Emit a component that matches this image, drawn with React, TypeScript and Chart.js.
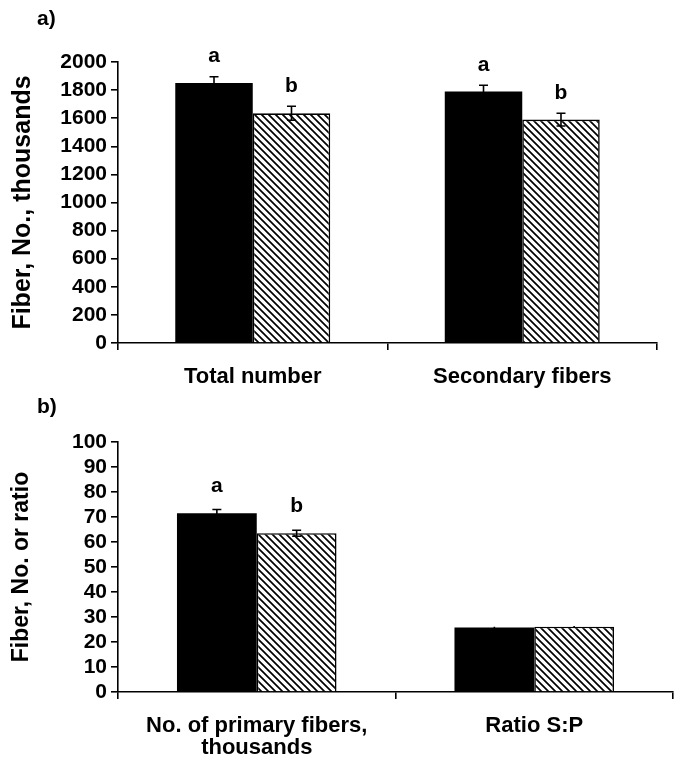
import React, { useEffect, useRef } from 'react';
import { Chart, registerables } from 'chart.js';

Chart.register(...registerables);

// ---- Data ----
const categoriesA = ['Total number', 'Secondary fibers'];
const controlA = [1850, 1790];
const treatA = [1635, 1590];
const controlErrA = [45, 45];
const treatErrA = [50, 45];
const controlLettersA = ['a', 'a'];
const treatLettersA = ['b', 'b'];
const ticksA = { min: 0, max: 2000, step: 200 };

const categoriesB = [['No. of primary fibers,', 'thousands'], 'Ratio S:P'];
const controlB = [71.5, 25.8];
const treatB = [63.5, 26.1];
const controlErrB = [1.5, 0.3];
const treatErrB = [1.2, 0.3];
const controlLettersB = ['a', ''];
const treatLettersB = ['b', ''];
const ticksB = { min: 0, max: 100, step: 10 };

const FONT = 'Liberation Sans, Arial, Helvetica, sans-serif';

function makeHatch(): CanvasPattern | string {
  const s = 7;
  const c = document.createElement('canvas');
  c.width = s;
  c.height = s;
  const ctx = c.getContext('2d');
  if (!ctx) return '#888';
  ctx.fillStyle = '#fff';
  ctx.fillRect(0, 0, s, s);
  ctx.strokeStyle = '#000';
  ctx.lineWidth = 1.7;
  ctx.beginPath();
  ctx.moveTo(-1, -1);
  ctx.lineTo(s + 1, s + 1);
  ctx.moveTo(-1, s - 1);
  ctx.lineTo(1, s + 1);
  ctx.moveTo(s - 1, -1);
  ctx.lineTo(s + 1, 1);
  ctx.stroke();
  return ctx.createPattern(c, 'repeat') || '#888';
}

const errorPlugin = {
  id: 'errBars',
  afterDatasetsDraw(chart: any) {
    const ctx = chart.ctx;
    const y = chart.scales.y;
    chart.data.datasets.forEach((ds: any, i: number) => {
      const meta = chart.getDatasetMeta(i);
      meta.data.forEach((bar: any, j: number) => {
        const v = ds.data[j];
        const e = ds.errors[j];
        const yt = y.getPixelForValue(v + e);
        const yb = y.getPixelForValue(v - e);
        const x = bar.x;
        ctx.save();
        ctx.strokeStyle = '#000';
        ctx.lineWidth = 1.6;
        ctx.beginPath();
        ctx.moveTo(x, yt);
        ctx.lineTo(x, yb);
        if (e >= 10 * (y.max / 2000)) {
          ctx.moveTo(x - 4.5, yt);
          ctx.lineTo(x + 4.5, yt);
          ctx.moveTo(x - 4.5, yb);
          ctx.lineTo(x + 4.5, yb);
        }
        ctx.stroke();
        const letter = ds.letters[j];
        if (letter) {
          ctx.fillStyle = '#000';
          ctx.font = 'bold 21px ' + FONT;
          ctx.textAlign = 'center';
          ctx.textBaseline = 'alphabetic';
          ctx.fillText(letter, x, bar.y - 21);
        }
        ctx.restore();
      });
    });
  },
};

function panelLabelPlugin(text: string, x: number, y: number) {
  return {
    id: 'panelLabel',
    afterDraw(chart: any) {
      const ctx = chart.ctx;
      ctx.save();
      ctx.fillStyle = '#000';
      ctx.font = 'bold 21px ' + FONT;
      ctx.textAlign = 'left';
      ctx.textBaseline = 'middle';
      ctx.fillText(text, x, y);
      ctx.restore();
    },
  };
}

function buildConfig(
  categories: any[],
  control: number[],
  treat: number[],
  cErr: number[],
  tErr: number[],
  cLet: string[],
  tLet: string[],
  ticks: { min: number; max: number; step: number },
  yTitle: string,
  yTitleSize: number,
  padTop: number,
  padRight: number,
  xHeight: number,
  label: { text: string; x: number; y: number }
): any {
  const hatch = makeHatch();
  return {
    type: 'bar',
    data: {
      labels: categories,
      datasets: [
        {
          data: control,
          errors: cErr,
          letters: cLet,
          backgroundColor: '#000',
          borderWidth: 0,
          categoryPercentage: 0.575,
          barPercentage: 1,
        },
        {
          data: treat,
          errors: tErr,
          letters: tLet,
          backgroundColor: hatch,
          borderColor: '#000',
          borderWidth: 1.6,
          categoryPercentage: 0.575,
          barPercentage: 1,
        },
      ],
    },
    options: {
      animation: false,
      responsive: false,
      maintainAspectRatio: false,
      layout: { padding: { top: padTop, right: padRight, left: 0, bottom: 0 } },
      plugins: { legend: { display: false }, tooltip: { enabled: false } },
      scales: {
        x: {
          grid: { drawOnChartArea: false, drawTicks: true, tickLength: 7, color: '#000', lineWidth: 1.6, offset: true },
          border: { color: '#000', width: 1.6 },
          ticks: {
            color: '#000',
            font: { family: FONT, weight: 'bold', size: 22, lineHeight: 1.0 },
            padding: 16,
            maxRotation: 0,
            minRotation: 0,
            autoSkip: false,
          },
          afterFit(scale: any) {
            scale.height = xHeight;
          },
        },
        y: {
          min: ticks.min,
          max: ticks.max,
          grid: { drawOnChartArea: false, drawTicks: true, tickLength: 7, color: '#000', lineWidth: 1.6 },
          border: { color: '#000', width: 1.6 },
          ticks: {
            stepSize: ticks.step,
            color: '#000',
            font: { family: FONT, weight: 'bold', size: 21 },
            padding: 4,
            autoSkip: false,
            callback: (v: any) => String(v),
          },
          title: {
            display: true,
            text: yTitle,
            color: '#000',
            font: { family: FONT, weight: 'bold', size: yTitleSize },
            padding: { top: 8, bottom: 0 },
          },
          afterFit(scale: any) {
            scale.width = 118;
          },
        },
      },
    },
    plugins: [errorPlugin, panelLabelPlugin(label.text, label.x, label.y)],
  };
}

export default function App() {
  const refA = useRef<HTMLCanvasElement>(null);
  const refB = useRef<HTMLCanvasElement>(null);

  useEffect(() => {
    const cfgA = buildConfig(
      categoriesA, controlA, treatA, controlErrA, treatErrA, controlLettersA, treatLettersA,
      ticksA, 'Fiber, No., thousands', 25, 62, 24, 52, { text: 'a)', x: 37, y: 19 }
    );
    const cfgB = buildConfig(
      categoriesB, controlB, treatB, controlErrB, treatErrB, controlLettersB, treatLettersB,
      ticksB, 'Fiber, No. or ratio', 23, 47, 8, 68, { text: 'b)', x: 37, y: 12 }
    );
    const a = new Chart(refA.current as HTMLCanvasElement, cfgA);
    const b = new Chart(refB.current as HTMLCanvasElement, cfgB);
    return () => {
      a.destroy();
      b.destroy();
    };
  }, []);

  return (
    <div style={{ position: 'absolute', left: 0, top: 0, width: 681, height: 760, background: '#fff' }}>
      <canvas ref={refA} width={681} height={395} style={{ position: 'absolute', left: 0, top: 0, width: 681, height: 395 }} />
      <canvas ref={refB} width={681} height={365} style={{ position: 'absolute', left: 0, top: 395, width: 681, height: 365 }} />
    </div>
  );
}
